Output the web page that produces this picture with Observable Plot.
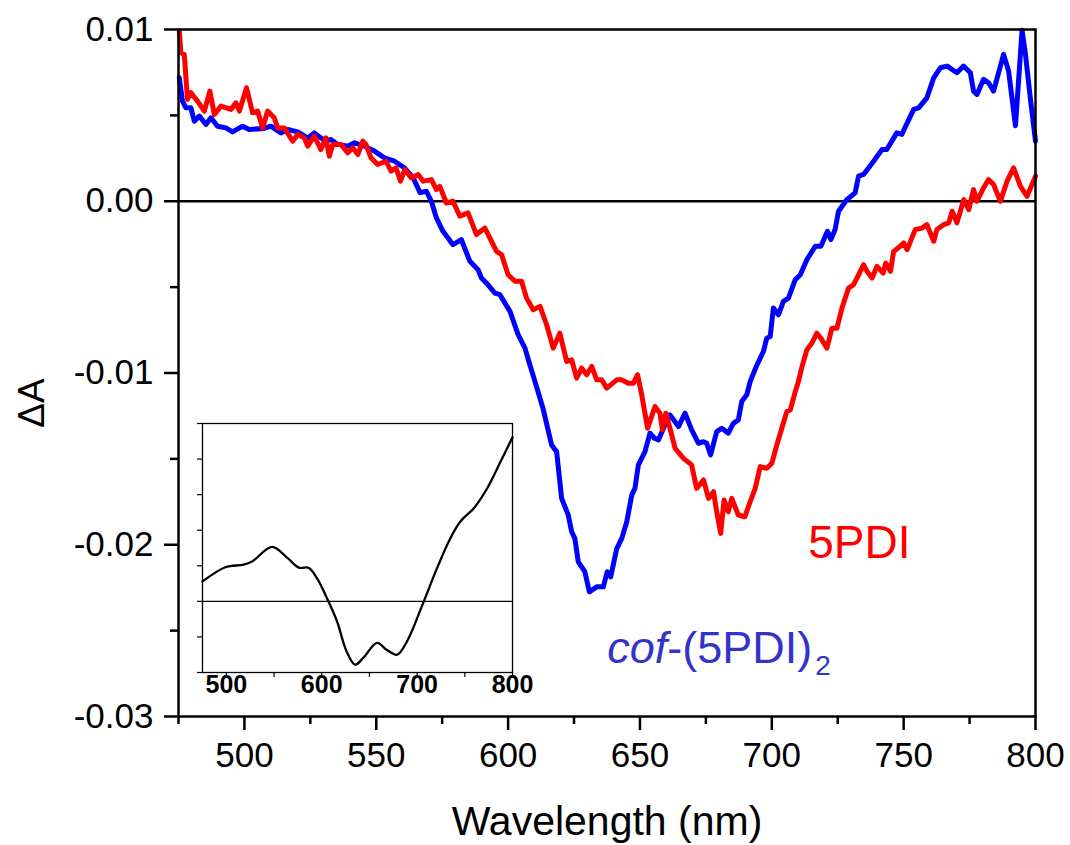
<!DOCTYPE html>
<html>
<head>
<meta charset="utf-8">
<script src="https://cdn.jsdelivr.net/npm/d3@7"></script>
<script src="https://cdn.jsdelivr.net/npm/@observablehq/plot@0.6"></script>
<style>
  html, body { margin: 0; padding: 0; background: #fff; }
  #wrap { position: relative; width: 1070px; height: 845px; overflow: hidden; font-family: "Liberation Sans", Arial, sans-serif; }
  #inset { position: absolute; left: 190px; top: 417px; }
</style>
</head>
<body>
<div id="wrap"><div id="main"></div><div id="inset"></div></div>
<script>
// ---- data ----
const blueWl = [475.3,476.5,477.8,479.7,481.0,482.9,485.4,487.3,489.8,493.0,495.5,499.3,501.8,507.5,510.0,513.8,516.4,520.2,524.0,526.5,529.0,530.9,532.8,535.4,539.2,541.7,545.5,549.3,553.1,556.9,560.7,564.0,566.6,569.0,570.9,572.8,575.3,579.1,582.3,585.5,588.6,589.9,592.0,595.0,596.9,600.7,603.8,606.4,608.0,610.0,613.3,616.5,618.4,620.3,622.8,624.1,625.3,626.6,629.1,630.8,633.6,636.1,637.6,638.9,641.2,643.1,645.0,646.9,648.1,649.4,651.9,653.8,655.5,657.0,659.5,661.4,664.6,667.1,669.6,672.2,674.1,675.3,676.8,679.1,681.0,683.5,685.4,687.3,688.6,690.5,691.8,694.1,696.8,698.1,699.4,700.6,702.5,704.4,706.3,708.9,710.8,713.3,716.5,718.6,721.1,722.4,724.0,725.3,728.5,731.6,732.9,734.8,738.6,741.8,743.6,747.4,749.3,753.8,755.7,758.8,761.4,763.9,766.5,770.2,772.7,775.3,776.5,777.8,780.3,782.2,784.1,787.9,789.8,792.4,794.9,796.2,798.1,800.0];
const blueDA = [0.00719,0.00583,0.00544,0.00544,0.00466,0.00496,0.00447,0.00486,0.00437,0.00427,0.00404,0.00437,0.00418,0.00424,0.00437,0.00398,0.00418,0.00404,0.00369,0.00398,0.00369,0.00350,0.00360,0.00331,0.00321,0.00340,0.00321,0.00292,0.00253,0.00233,0.00194,0.00136,0.00050,0.00058,0.00000,-0.00097,-0.00175,-0.00253,-0.00224,-0.00350,-0.00399,-0.00447,-0.00480,-0.00535,-0.00544,-0.00641,-0.00777,-0.00855,-0.00940,-0.01040,-0.01210,-0.01419,-0.01458,-0.01730,-0.01827,-0.01924,-0.01963,-0.02100,-0.02157,-0.02274,-0.02245,-0.02245,-0.02157,-0.02187,-0.02022,-0.01963,-0.01866,-0.01710,-0.01672,-0.01535,-0.01458,-0.01350,-0.01380,-0.01390,-0.01302,-0.01244,-0.01312,-0.01234,-0.01331,-0.01409,-0.01400,-0.01409,-0.01477,-0.01341,-0.01322,-0.01350,-0.01293,-0.01273,-0.01166,-0.01127,-0.01050,-0.00962,-0.00875,-0.00797,-0.00787,-0.00622,-0.00661,-0.00583,-0.00564,-0.00457,-0.00428,-0.00340,-0.00262,-0.00262,-0.00175,-0.00223,-0.00165,-0.00058,0.00010,0.00049,0.00146,0.00156,0.00233,0.00301,0.00301,0.00398,0.00389,0.00535,0.00544,0.00602,0.00719,0.00777,0.00787,0.00748,0.00787,0.00748,0.00641,0.00622,0.00710,0.00690,0.00641,0.00855,0.00758,0.00440,0.00995,0.00855,0.00593,0.00350];

const redWl = [475.3,475.9,477.2,478.4,479.7,482.2,484.8,486.9,488.6,491.1,494.9,496.8,498.1,500.8,503.1,505.0,506.9,508.8,511.3,512.6,515.1,518.3,520.2,522.7,524.0,526.5,529.0,530.9,532.2,533.5,536.6,539.2,541.1,543.0,544.9,546.1,548.0,550.5,553.7,555.6,557.5,559.2,560.8,563.3,565.9,567.8,570.9,572.8,574.1,576.6,579.1,581.7,584.8,588.0,591.2,595.6,597.5,600.0,602.6,605.1,607.0,609.5,612.1,614.6,617.1,619.6,622.2,624.1,626.0,627.9,629.8,631.7,633.6,635.5,637.4,641.2,643.1,645.6,647.5,649.1,650.7,652.9,655.7,657.6,658.5,659.8,661.4,663.3,666.5,669.6,671.5,674.1,676.0,677.9,679.1,680.6,681.9,683.5,684.8,687.3,689.8,691.8,693.7,695.6,698.1,700.0,701.9,703.8,705.7,707.0,708.9,710.1,711.5,713.3,715.2,717.1,719.0,720.9,722.8,724.7,726.6,729.1,731.0,732.9,734.8,736.1,738.0,739.9,742.2,743.2,745.0,746.2,748.7,750.0,751.3,754.4,757.0,758.8,761.4,762.6,765.2,767.1,768.4,770.2,772.8,774.7,776.5,777.8,780.3,782.2,784.1,786.7,789.2,791.7,794.3,796.8,800.0];
const redDA = [0.00991,0.00865,0.00855,0.00593,0.00632,0.00583,0.00525,0.00641,0.00505,0.00554,0.00535,0.00573,0.00525,0.00661,0.00515,0.00525,0.00427,0.00525,0.00486,0.00427,0.00427,0.00350,0.00389,0.00369,0.00321,0.00379,0.00301,0.00369,0.00262,0.00331,0.00331,0.00282,0.00311,0.00272,0.00350,0.00331,0.00253,0.00214,0.00233,0.00175,0.00194,0.00117,0.00185,0.00136,0.00156,0.00117,0.00126,0.00068,0.00087,-0.00010,0.00000,-0.00087,-0.00068,-0.00194,-0.00156,-0.00292,-0.00311,-0.00428,-0.00466,-0.00466,-0.00564,-0.00632,-0.00612,-0.00719,-0.00855,-0.00768,-0.00933,-0.00923,-0.01030,-0.00972,-0.01010,-0.00962,-0.01040,-0.01040,-0.01088,-0.01040,-0.01040,-0.01060,-0.01060,-0.01010,-0.01130,-0.01322,-0.01195,-0.01234,-0.01331,-0.01234,-0.01322,-0.01438,-0.01497,-0.01535,-0.01672,-0.01623,-0.01730,-0.01691,-0.01808,-0.01934,-0.01740,-0.01808,-0.01730,-0.01827,-0.01837,-0.01749,-0.01672,-0.01545,-0.01555,-0.01526,-0.01419,-0.01322,-0.01224,-0.01215,-0.01108,-0.01050,-0.00960,-0.00865,-0.00826,-0.00768,-0.00807,-0.00855,-0.00739,-0.00739,-0.00622,-0.00506,-0.00486,-0.00428,-0.00369,-0.00408,-0.00447,-0.00379,-0.00418,-0.00360,-0.00408,-0.00292,-0.00262,-0.00243,-0.00282,-0.00165,-0.00156,-0.00136,-0.00233,-0.00165,-0.00136,-0.00126,-0.00058,-0.00126,0.00010,-0.00049,0.00068,0.00000,0.00078,0.00126,0.00097,0.00000,0.00117,0.00194,0.00087,0.00029,0.00146];

const insetWl = [475,499,518,527,548,564,576,586.5,595,607,616,626,635,643.5,658,668,679,689.5,707,721,735,745.5,759.5,773.5,787.5,800];
const insetSignal = [0.56,0.96,1.03,1.12,1.53,1.22,0.95,0.94,0.65,0,-0.56,-1.40,-1.78,-1.59,-1.17,-1.36,-1.50,-1.12,0,0.94,1.78,2.25,2.62,3.18,3.93,4.61];

const xTicks = [500,550,600,650,700,750,800];
const xMinorTicks = [475,525,575,625,675,725,775];
const yTicks = [-0.03,-0.02,-0.01,0,0.01];
const yMinorTicks = [-0.025,-0.015,-0.005,0.005];
const insetXTicks = [500,550,600,650,700,750,800];
const insetXLabels = [500,600,700,800];
const insetYTicks = [-2,-1,0,1,2,3,4,5];

const xLabel = "Wavelength (nm)";
const yLabel = "ΔA";
const redName = "5PDI";
const blueName = "cof-(5PDI)2";

// ---- tables ----
const blue = blueWl.map((w, i) => ({w, v: blueDA[i]}));
const red = redWl.map((w, i) => ({w, v: redDA[i]}));
const inset = insetWl.map((w, i) => ({w, s: insetSignal[i]}));

const FONT = "'Liberation Sans', Arial, sans-serif";

const main = Plot.plot({
  width: 1070,
  height: 845,
  marginTop: 29,
  marginBottom: 129,
  marginLeft: 178,
  marginRight: 35,
  style: {fontFamily: FONT, background: "white", color: "black"},
  x: {domain: [475, 800], axis: null},
  y: {domain: [-0.03, 0.01], axis: null},
  marks: [
    Plot.ruleY([0], {stroke: "black", strokeWidth: 2.5}),
    Plot.line(blue, {x: "w", y: "v", stroke: "#0000ff", strokeWidth: 5, strokeLinejoin: "round"}),
    Plot.line(red, {x: "w", y: "v", stroke: "#ff0000", strokeWidth: 5, strokeLinejoin: "round"}),
    Plot.frame({stroke: "black", strokeWidth: 2.5}),
    Plot.axisX(xTicks, {label: null, tickSize: 14, tickPadding: 12, fontSize: 35, strokeWidth: 2.5, tickFormat: d => String(d)}),
    Plot.axisX(xMinorTicks, {label: null, tickSize: 8, strokeWidth: 2.5, tickFormat: () => ""}),
    Plot.axisY(yTicks, {label: null, tickSize: 14, tickPadding: 11, fontSize: 35, strokeWidth: 2.5, tickFormat: d => d.toFixed(2)}),
    Plot.axisY(yMinorTicks, {label: null, tickSize: 8, strokeWidth: 2.5, tickFormat: () => ""}),
    Plot.text([xLabel], {frameAnchor: "bottom", textAnchor: "middle", lineAnchor: "bottom", dy: 118, fontSize: 41, fill: "black"}),
    Plot.text([yLabel], {frameAnchor: "left", rotate: -90, textAnchor: "middle", lineAnchor: "bottom", dx: -135, dy: 30, fontSize: 37, fill: "black"}),
    Plot.text([redName], {x: () => 713.8, y: () => -0.0208, textAnchor: "start", lineAnchor: "bottom", fontSize: 46, fill: "#ff0000"}),
    Plot.text([blueName], {x: () => 637.6, y: () => -0.0269, textAnchor: "start", lineAnchor: "bottom", fontSize: 45, fill: "#3333cc"})
  ]
});
document.getElementById("main").appendChild(main);

// rich formatting for the blue label: italic "cof" and subscript "2"
main.querySelectorAll("text").forEach(t => {
  if (t.textContent === blueName) {
    while (t.firstChild) t.removeChild(t.firstChild);
    const ns = "http://www.w3.org/2000/svg";
    const a = document.createElementNS(ns, "tspan");
    a.setAttribute("font-style", "italic");
    a.textContent = "cof";
    const b = document.createElementNS(ns, "tspan");
    b.textContent = "-(5PDI)";
    const c = document.createElementNS(ns, "tspan");
    c.setAttribute("font-size", "28");
    c.setAttribute("dy", "12");
    c.setAttribute("dx", "3");
    c.textContent = "2";
    t.appendChild(a); t.appendChild(b); t.appendChild(c);
  }
});

const insetPlot = Plot.plot({
  width: 347,
  height: 285,
  marginTop: 6,
  marginBottom: 30,
  marginLeft: 12,
  marginRight: 25,
  style: {fontFamily: FONT, background: "transparent", color: "black", overflow: "visible"},
  x: {domain: [475, 800], axis: null},
  y: {domain: [-2, 5], axis: null},
  marks: [
    Plot.ruleY([0], {stroke: "black", strokeWidth: 1.2}),
    Plot.line(inset, {x: "w", y: "s", curve: "catmull-rom", stroke: "black", strokeWidth: 2.3}),
    Plot.frame({stroke: "black", strokeWidth: 1.3}),
    Plot.axisY(insetYTicks, {label: null, tickSize: 5, strokeWidth: 1.2, tickFormat: () => ""}),
    Plot.axisX(insetXTicks, {label: null, tickSize: 5, strokeWidth: 1.2, tickFormat: () => ""}),
    Plot.axisX(insetXLabels, {label: null, tickSize: 0, tickPadding: 3, fontSize: 25, fontWeight: "bold", tickFormat: d => String(d)})
  ]
});
document.getElementById("inset").appendChild(insetPlot);
</script>
</body>
</html>
